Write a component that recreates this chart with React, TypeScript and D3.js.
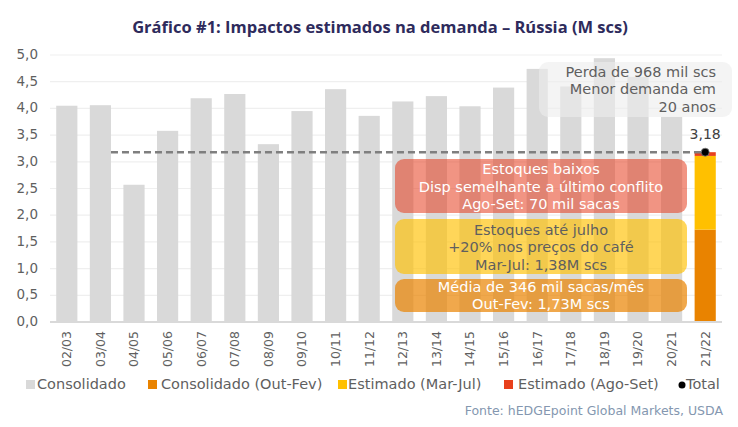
import React, { useEffect, useRef } from 'react';
import * as d3 from 'd3';

// Russian coffee consumption by crop year (M scs)
const seasons = [
  '02/03', '03/04', '04/05', '05/06', '06/07', '07/08', '08/09', '09/10', '10/11', '11/12',
  '12/13', '13/14', '14/15', '15/16', '16/17', '17/18', '18/19', '19/20', '20/21', '21/22',
];
const consolidated = [
  4.05, 4.06, 2.57, 3.58, 4.19, 4.27, 3.33, 3.95, 4.36, 3.86,
  4.13, 4.23, 4.04, 4.39, 4.74, 4.41, 4.94, 4.59, 3.84,
];

// 21/22 split into periods
const periodLabels = ['Consolidado (Out-Fev)', 'Estimado (Mar-Jul)', 'Estimado (Ago-Set)'];
const periodValues = [1.73, 1.38, 0.07];
const periodColors = ['#e98300', '#ffc000', '#e8401c'];
const total = 3.18;

const yTicks = [0, 0.5, 1, 1.5, 2, 2.5, 3, 3.5, 4, 4.5, 5];

const W = 738;
const H = 427;
const FONT = "'DejaVu Sans', sans-serif";
const TEXT = '#5f5f5f';

const fmt = (v: number, digits: number) => v.toFixed(digits).replace('.', ',');

const App: React.FC = () => {
  const ref = useRef<SVGSVGElement>(null);

  useEffect(() => {
    if (!ref.current) return;
    const svg = d3.select(ref.current);
    svg.selectAll('*').remove();

    const x = d3.scaleBand<string>()
      .domain(seasons)
      .range([50, 722])
      .paddingInner(0.37)
      .paddingOuter(0.185);
    const y = d3.scaleLinear().domain([0, 5]).range([322, 55]);

    // title
    svg.append('text')
      .attr('x', 380)
      .attr('y', 29)
      .attr('text-anchor', 'middle')
      .attr('dominant-baseline', 'middle')
      .style('font-family', "'Open Sans', sans-serif")
      .style('font-weight', 'bold')
      .style('font-size', '16.5px')
      .style('fill', '#2e2b5c')
      .text('Gráfico #1: Impactos estimados na demanda – Rússia (M scs)');

    // gridlines
    svg.append('g')
      .selectAll('line')
      .data(yTicks.filter(t => t > 0))
      .enter()
      .append('line')
      .attr('x1', 50)
      .attr('x2', 722)
      .attr('y1', d => y(d))
      .attr('y2', d => y(d))
      .attr('stroke', '#efefef')
      .attr('stroke-width', 1.2);

    // y axis labels
    svg.append('g')
      .selectAll('text')
      .data(yTicks)
      .enter()
      .append('text')
      .attr('x', 38)
      .attr('y', d => y(d))
      .attr('text-anchor', 'end')
      .attr('dominant-baseline', 'middle')
      .style('font-family', FONT)
      .style('font-size', '13.5px')
      .style('fill', TEXT)
      .text(d => fmt(d, 1));

    // consolidated bars
    svg.append('g')
      .selectAll('rect')
      .data(consolidated)
      .enter()
      .append('rect')
      .attr('x', (_, i) => x(seasons[i])!)
      .attr('y', d => y(d))
      .attr('width', x.bandwidth())
      .attr('height', d => y(0) - y(d))
      .attr('fill', '#d9d9d9');

    // stacked bar for the last season
    const last = seasons[seasons.length - 1];
    const tops = d3.cumsum(periodValues);
    svg.append('g')
      .selectAll('rect')
      .data(periodValues)
      .enter()
      .append('rect')
      .attr('x', x(last)!)
      .attr('y', (_, i) => y(tops[i]))
      .attr('width', x.bandwidth())
      .attr('height', d => y(0) - y(d))
      .attr('fill', (_, i) => periodColors[i]);

    // baseline
    svg.append('line')
      .attr('x1', 50)
      .attr('x2', 722)
      .attr('y1', y(0))
      .attr('y2', y(0))
      .attr('stroke', '#d9d9d9')
      .attr('stroke-width', 2);

    // x axis labels
    svg.append('g')
      .selectAll('text')
      .data(seasons)
      .enter()
      .append('text')
      .attr('transform', d => `translate(${x(d)! + x.bandwidth() / 2},331) rotate(-90)`)
      .attr('text-anchor', 'end')
      .attr('dy', '0.35em')
      .style('font-family', FONT)
      .style('font-size', '12.5px')
      .style('fill', TEXT)
      .text(d => d);

    // total reference line + marker
    const lastCx = x(last)! + x.bandwidth() / 2;
    svg.append('line')
      .attr('x1', x(seasons[1])! + x.bandwidth())
      .attr('x2', lastCx)
      .attr('y1', y(total))
      .attr('y2', y(total))
      .attr('stroke', '#7f7f7f')
      .attr('stroke-width', 2.5)
      .attr('stroke-dasharray', '7,4');

    svg.append('circle')
      .attr('cx', lastCx)
      .attr('cy', y(total))
      .attr('r', 4)
      .attr('fill', '#000')
      .attr('stroke', '#7f7f7f')
      .attr('stroke-width', 0.8);

    svg.append('text')
      .attr('x', lastCx)
      .attr('y', y(total) - 17)
      .attr('text-anchor', 'middle')
      .attr('dominant-baseline', 'middle')
      .style('font-family', FONT)
      .style('font-size', '14px')
      .style('fill', '#404040')
      .text(fmt(total, 2));

    // callout boxes
    const callout = (
      bx: number, by: number, bw: number, bh: number,
      fill: string, opacity: number, color: string,
      lines: string[], tx: number, ty: number, anchor: string,
    ) => {
      const g = svg.append('g');
      g.append('rect')
        .attr('x', bx)
        .attr('y', by)
        .attr('width', bw)
        .attr('height', bh)
        .attr('rx', 9)
        .attr('fill', fill)
        .attr('opacity', opacity);
      g.selectAll('text')
        .data(lines)
        .enter()
        .append('text')
        .attr('x', tx)
        .attr('y', (_, i) => ty + i * 17.5)
        .attr('text-anchor', anchor)
        .attr('dominant-baseline', 'middle')
        .style('font-family', FONT)
        .style('font-size', '14.5px')
        .style('fill', color)
        .text(d => d);
    };

    callout(539, 62, 193, 55, '#ededed', 0.6, TEXT,
      ['Perda de 968 mil scs', 'Menor demanda em', '20 anos'], 716, 72.5, 'end');
    callout(395, 159, 292, 54, '#e63c1e', 0.55, '#ffffff',
      ['Estoques baixos', 'Disp semelhante a último conflito', 'Ago-Set: 70 mil sacas'], 541, 170, 'middle');
    callout(395, 219, 292, 55, '#ffc000', 0.65, TEXT,
      ['Estoques até julho', '+20% nos preços do café', 'Mar-Jul: 1,38M scs'], 541, 230.5, 'middle');
    callout(395, 279, 292, 33, '#e98300', 0.7, '#ffffff',
      ['Média de 346 mil sacas/mês', 'Out-Fev: 1,73M scs'], 541, 287.5, 'middle');

    // legend
    const legend = svg.append('g');
    const legendItems = [
      { label: 'Consolidado', color: '#d9d9d9', kx: 26, tx: 37 },
      { label: periodLabels[0], color: periodColors[0], kx: 148, tx: 161 },
      { label: periodLabels[1], color: periodColors[1], kx: 338, tx: 348 },
      { label: periodLabels[2], color: periodColors[2], kx: 504, tx: 518 },
    ];
    legendItems.forEach(item => {
      legend.append('rect')
        .attr('x', item.kx)
        .attr('y', 380)
        .attr('width', 9)
        .attr('height', 9)
        .attr('fill', item.color);
      legend.append('text')
        .attr('x', item.tx)
        .attr('y', 385)
        .attr('dominant-baseline', 'middle')
        .style('font-family', FONT)
        .style('font-size', '14.5px')
        .style('fill', TEXT)
        .text(item.label);
    });
    legend.append('circle')
      .attr('cx', 682)
      .attr('cy', 385)
      .attr('r', 3.5)
      .attr('fill', '#000');
    legend.append('text')
      .attr('x', 686)
      .attr('y', 385)
      .attr('dominant-baseline', 'middle')
      .style('font-family', FONT)
      .style('font-size', '14.5px')
      .style('fill', TEXT)
      .text('Total');

    // source
    svg.append('text')
      .attr('x', 723)
      .attr('y', 411)
      .attr('text-anchor', 'end')
      .attr('dominant-baseline', 'middle')
      .style('font-family', FONT)
      .style('font-size', '12.5px')
      .style('fill', '#8497b0')
      .text('Fonte: hEDGEpoint Global Markets, USDA');
  }, []);

  return (
    <svg
      ref={ref}
      width={W}
      height={H}
      style={{ position: 'absolute', left: 0, top: 0, background: '#fff' }}
    />
  );
};

export default App;
